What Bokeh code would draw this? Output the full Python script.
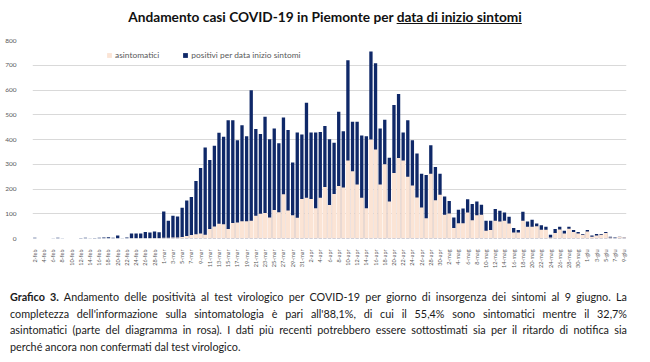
import math
import pandas as pd
from bokeh.plotting import figure
from bokeh.models import (ColumnDataSource, Range1d, FixedTicker, SingleIntervalTicker,
                          Legend, LegendItem, Div)
from bokeh.layouts import column
from bokeh.embed import file_html
from bokeh.resources import INLINE

# ---------------- data ----------------
dates = pd.date_range("2020-02-02", "2020-06-09", freq="D")
months_it = {2: "feb", 3: "mar", 4: "apr", 5: "mag", 6: "giu"}
day_labels = [f"{d.day}-{months_it[d.month]}" for d in dates]

positivi = [
    3, 0, 0, 0, 1, 3, 1, 0, 0, 0, 2, 3, 1, 2, 3, 4, 5, 3, 12, 1, 4,
    20, 20, 20, 26, 24, 28, 25,
    109, 72, 92, 89, 124, 154, 168, 232, 285, 368, 317, 375, 427,
    411, 478, 478, 397, 458, 413, 599, 442, 422, 492, 401, 444, 385, 489, 438, 307, 428, 420,
    548, 428, 428, 430, 455, 401, 387, 512, 433, 720, 472, 472, 416, 413, 756, 708, 444, 480,
    326, 539, 584, 428, 478, 397, 343,
    262, 257, 377, 289, 262, 170, 152, 85, 116, 121, 159, 139, 150, 136, 72,
    72, 119, 112, 105, 88, 42, 34, 108, 69, 76, 61, 54, 47, 15, 38,
    47, 31, 47, 34, 26, 18, 34, 12, 18, 18, 26, 7, 4, 7, 4,
]
asintomatici = [
    0, 0, 0, 0, 0, 0, 0, 0, 0, 0, 0, 0, 0, 0, 0, 0, 0, 0, 0, 0, 0,
    1, 1, 1, 1, 1, 2, 2,
    3, 3, 4, 4, 6, 10, 14, 17, 20, 15, 38, 48, 60,
    58, 38, 63, 65, 70, 70, 72, 92, 100, 103, 85, 115, 106, 179, 113, 94, 84, 160,
    165, 160, 122, 165, 208, 135, 180, 212, 206, 315, 272, 218, 165, 122, 400, 360, 218, 300,
    150, 265, 325, 315, 250, 214, 166,
    125, 82, 262, 155, 177, 96, 101, 42, 62, 62, 105, 74, 94, 96, 31,
    34, 72, 69, 72, 61, 24, 24, 72, 47, 47, 50, 35, 35, 4, 22,
    36, 20, 39, 26, 20, 15, 28, 7, 12, 15, 22, 4, 1, 7, 4,
]

NAVY = "#0f2868"
PINK = "#fbe4d5"
GREY = "#595959"
FONT = "Lato"

idx = list(range(len(day_labels)))
src = ColumnDataSource(dict(x=idx, tot=positivi, asi=asintomatici, lab=day_labels))

p = figure(frame_width=594, frame_height=198,
           x_range=Range1d(-0.5, len(idx) - 0.5), y_range=Range1d(0, 800),
           output_backend="svg", toolbar_location=None,
           min_border_left=32, min_border_right=24, min_border_top=10, min_border_bottom=51)
p.outline_line_color = None
p.background_fill_color = "white"

r_navy = p.vbar(x="x", top="tot", width=0.72, fill_color=NAVY, line_color=None, source=src)
r_pink = p.vbar(x="x", top="asi", width=0.9, fill_color=PINK, line_color=None, source=src)

# axes
p.yaxis.ticker = SingleIntervalTicker(interval=100)
p.yaxis.axis_line_color = None
p.yaxis.major_tick_line_color = None
p.yaxis.minor_tick_line_color = None
p.yaxis.major_label_text_font_size = "6.5px"
p.yaxis.major_label_text_color = GREY
p.yaxis.major_label_text_font = FONT
p.yaxis.major_label_standoff = 10

even = [i for i in idx if i % 2 == 0]
p.xaxis.ticker = FixedTicker(ticks=even)
p.xaxis.major_label_overrides = {i: day_labels[i] for i in even}
p.xaxis.major_label_orientation = math.pi / 2
p.xaxis.axis_line_color = None
p.xaxis.major_tick_line_color = None
p.xaxis.minor_tick_line_color = None
p.xaxis.major_label_text_font_size = "5.5px"
p.xaxis.major_label_text_color = GREY
p.xaxis.major_label_text_font = FONT
p.xaxis.major_label_standoff = 5

p.xgrid.visible = False
p.ygrid.grid_line_color = "#d9d9d9"
p.ygrid.grid_line_width = 1

legend = Legend(items=[LegendItem(label="asintomatici", renderers=[r_pink]),
                       LegendItem(label="positivi per data inizio sintomi", renderers=[r_navy])],
                orientation="horizontal", location=(74, 178),
                background_fill_alpha=0, border_line_alpha=0,
                label_text_font_size="8.4px", label_text_color=GREY, label_text_font=FONT,
                glyph_width=6, glyph_height=6, spacing=23, padding=0, margin=0,
                label_standoff=3, label_height=10)
p.add_layout(legend)

title = Div(text=('<div style="width:650px;text-align:center;font-family:Lato;font-weight:bold;'
                  'font-size:13.7px;line-height:20px;color:#111;padding-top:7px;">'
                  'Andamento casi COVID-19 in Piemonte per <u>data di inizio sintomi</u></div>'),
            width=650, height=30, margin=0)

lines = [
    "<b>Grafico 3.</b> Andamento delle positività al test virologico per COVID-19 per giorno di insorgenza dei sintomi al 9 giugno. La",
    "completezza dell'informazione sulla sintomatologia è pari all'88,1%, di cui il 55,4% sono sintomatici mentre il 32,7%",
    "asintomatici (parte del diagramma in rosa). I dati più recenti potrebbero essere sottostimati sia per il ritardo di notifica sia",
    "perché ancora non confermati dal test virologico.",
]
html = ""
for k, ln in enumerate(lines):
    last = "left" if k == len(lines) - 1 else "justify"
    html += (f'<div style="text-align:justify;text-align-last:{last};white-space:nowrap;">{ln}</div>')
caption = Div(text=(f'<div style="width:627px;padding-left:10px;font-family:Lato;font-size:10.8px;'
                    f'line-height:16.5px;color:#1a1a1a;">{html}</div>'),
              width=650, height=70, margin=0)

layout = column(title, p, caption, spacing=0)
open("out.html", "w").write(file_html(layout, INLINE))
